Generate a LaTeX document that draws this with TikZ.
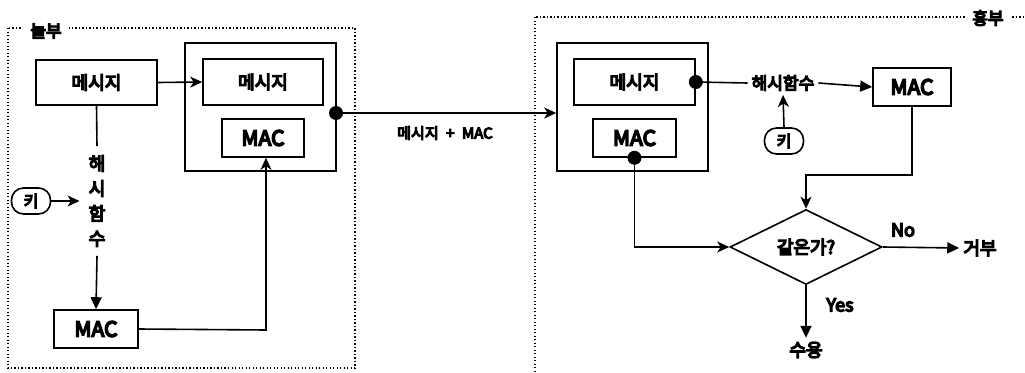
\documentclass[tikz,border=0pt]{standalone}
\usepackage{fontspec}
\setmainfont{Noto Sans CJK KR}[FakeBold=7.5]
\usetikzlibrary{arrows.meta,shapes.geometric}
\tikzset{
  box/.style={draw, line width=1.6pt, inner sep=0pt},
  kr/.style={font=\fontsize{18}{20}\selectfont},
  mac/.style={font=\fontsize{21}{23}\selectfont},
  keybox/.style={draw, line width=1.6pt, rounded corners=12pt, inner sep=0pt,
    minimum width=39pt, minimum height=26pt, font=\fontsize{16}{18}\selectfont},
  zone/.style={draw, line width=1.3pt, dash pattern=on 1.3pt off 2.2pt},
  zonelabel/.style={fill=white, inner xsep=7pt, inner ysep=2pt, font=\fontsize{17}{19}\selectfont},
  line/.style={line width=1.6pt},
  sarr/.style={line width=1.6pt, -{Stealth[length=12pt, width=11pt, inset=3.5pt]}},
  tarr/.style={line width=1.6pt, -{Triangle[length=12pt, width=11pt]}},
  dot/.style={circle, fill, inner sep=0pt, minimum size=14pt},
}
\begin{document}
\begin{tikzpicture}[x=1pt, y=-1pt]
\useasboundingbox (0,0) rectangle (1025,372);
\clip (0,0) rectangle (1025,372);

% sender zone
\draw[zone] (8,28) rectangle (355,368);
\node[zonelabel] (zoneL) at (46,31) {놀부};

% receiver zone
\draw[zone] (535,17) rectangle (1040,390);
\node[zonelabel] (zoneR) at (988,18) {흥부};

% ---- sender ----
\node[box, kr, minimum width=121pt, minimum height=45pt] (msgL) at (96.5,82.5) {메시지};
\node[box, minimum width=151pt, minimum height=128pt] (contL) at (260.5,107) {};
\node[box, kr, minimum width=120pt, minimum height=46pt] (msgLi) at (263,82) {메시지};
\node[box, mac, minimum width=82pt, minimum height=38pt] (macLi) at (263,138) {MAC};
\node[align=center, inner sep=9pt, font=\fontsize{18}{25}\selectfont] (hashL) at (97,201) {해\\시\\함\\수};
\node[keybox] (keyL) at (31,201) {키};
\node[box, mac, minimum width=84pt, minimum height=38pt] (macL) at (96,329) {MAC};
\coordinate (outL) at (336,113);
\coordinate (upL) at (266,330);

\draw[sarr] (msgL.east) -- (msgLi.west);
\draw[line] (msgL.south) -- (hashL.north);
\draw[tarr] (hashL.south) -- (macL.north);
\draw[sarr] (keyL.east) -- (hashL.west);
\draw[sarr] (macL.east) -- (upL) -- (upL |- macLi.south);

% ---- transfer ----
\node[box, minimum width=151pt, minimum height=128pt] (contR) at (632.5,107) {};
\draw[sarr] (outL) -- (contR.west |- outL);
\node[dot] at (outL) {};
\node[font=\fontsize{15}{17}\selectfont] (sent) at (445,133) {메시지\enspace+\enspace MAC};

% ---- receiver ----
\node[box, kr, minimum width=121pt, minimum height=46pt] (msgRi) at (634.5,82) {메시지};
\node[box, mac, minimum width=83pt, minimum height=38pt] (macRi) at (634.5,138) {MAC};
\node[font=\fontsize{17}{19}\selectfont, inner sep=4pt] (hashR) at (783,83) {해시함수};
\node[keybox] (keyR) at (784,141) {키};
\node[box, mac, minimum width=78pt, minimum height=38pt] (macR) at (912,87) {MAC};
\node[draw, line width=1.6pt, diamond, shape aspect=2, inner sep=0pt,
      minimum width=152pt, minimum height=75pt, kr] (dec) at (806,247) {같은가?};
\node[kr, inner sep=4pt] (rej) at (980,248) {거부};
\node[kr, inner sep=4pt] (acc) at (806,350) {수용};
\coordinate (elbow) at (806,175);

\draw[line] (msgRi.east) -- (hashR.west);
\node[dot] at (msgRi.east) {};
\draw[tarr] (hashR.east) -- (macR.west);
\draw[sarr] (keyR.north) -- (hashR.south);
\draw[sarr] (macR.south) |- (elbow) -- (dec.north);
\draw[sarr] (macRi.south) |- (dec.west);
\node[dot] at (macRi.south) {};
\draw[tarr] (dec.east) -- (rej.west);
\draw[tarr] (dec.south) -- (acc.north);
\node[font=\fontsize{18}{20}\selectfont] (no) at (903,230) {No};
\node[font=\fontsize{18}{20}\selectfont] (yes) at (840,305) {Yes};
\end{tikzpicture}
\end{document}
